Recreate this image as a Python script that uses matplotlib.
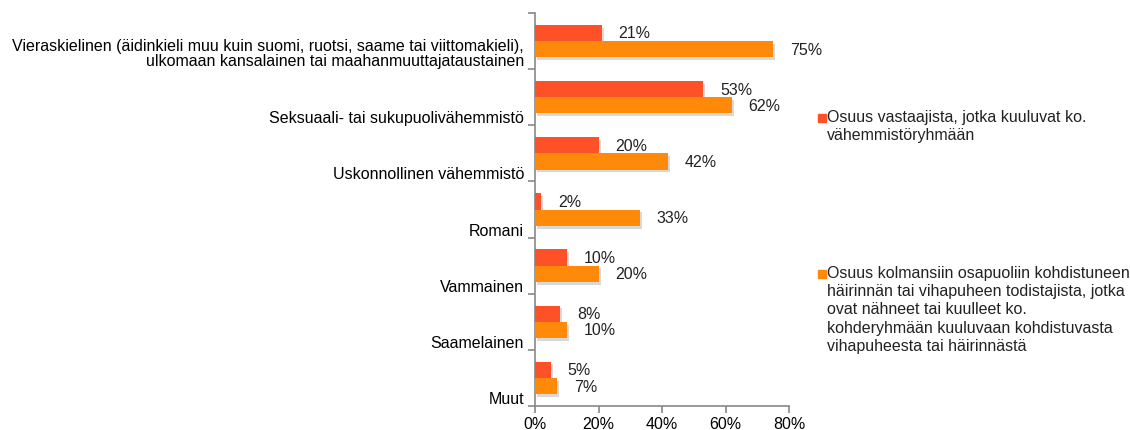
import matplotlib
matplotlib.use("Agg")
import matplotlib.pyplot as plt
from matplotlib.patches import Rectangle
from matplotlib.transforms import ScaledTranslation
import matplotlib.patheffects as pe
import numpy as np

plt.rcParams['font.family'] = ['Liberation Sans', 'DejaVu Sans']

categories = [
    "Vieraskielinen (äidinkieli muu kuin suomi, ruotsi, saame tai viittomakieli),\nulkomaan kansalainen tai maahanmuuttajataustainen",
    "Seksuaali- tai sukupuolivähemmistö",
    "Uskonnollinen vähemmistö",
    "Romani",
    "Vammainen",
    "Saamelainen",
    "Muut",
]
respondents = [21, 53, 20, 2, 10, 8, 5]
witnesses = [75, 62, 42, 33, 20, 10, 7]
series_names = [
    "Osuus vastaajista, jotka kuuluvat ko.\nvähemmistöryhmään",
    "Osuus kolmansiin osapuoliin kohdistuneen\nhäirinnän tai vihapuheen todistajista, jotka\novat nähneet tai kuulleet ko.\nkohderyhmään kuuluvaan kohdistuvasta\nvihapuheesta tai häirinnästä",
]
xticks = [0, 20, 40, 60, 80]

c_red = "#FF5128"
c_orange = "#FF8A0A"
grey = "#888888"
fs = 11.5

fig = plt.figure(figsize=(11.30, 4.31), dpi=100)
ax = fig.add_axes([535/1130, 1-407/431, 254/1130, 393/431])

y = np.arange(len(categories))
h = 0.29
shadow = [pe.SimplePatchShadow(offset=(1.5, -2), shadow_rgbFace="#aaaaaa", alpha=0.45), pe.Normal()]
b1 = ax.barh(y - h/2, respondents, height=h, color=c_red, zorder=3)
b2 = ax.barh(y + h/2, witnesses, height=h, color=c_orange, zorder=3)
for b in list(b1) + list(b2):
    b.set_path_effects(shadow)

for yi, v in zip(y - h/2, respondents):
    ax.annotate(f"{v}%", (v, yi), xytext=(12, 0), textcoords="offset points",
                va="center", ha="left", fontsize=fs, color="#222222")
for yi, v in zip(y + h/2, witnesses):
    ax.annotate(f"{v}%", (v, yi), xytext=(12, 0), textcoords="offset points",
                va="center", ha="left", fontsize=fs, color="#222222")

ax.set_xlim(0, 80)
ax.set_ylim(len(categories) - 0.5, -0.5)
ax.set_xticks(xticks)
ax.set_xticklabels([f"{t}%" for t in xticks], fontsize=fs)
ax.set_yticks(y)
ax.set_yticklabels(categories, fontsize=fs, linespacing=1.0)
ax.set_yticks(np.arange(len(categories) + 1) - 0.5, minor=True)
ax.tick_params(axis='y', which='major', length=0, pad=8)
ax.tick_params(axis='y', which='minor', length=5, color=grey, width=1.2, direction='out')
ax.tick_params(axis='x', which='major', length=5, color=grey, width=1.2, direction='out', pad=2)
for s in ['top', 'right']:
    ax.spines[s].set_visible(False)
for s in ['left', 'bottom']:
    ax.spines[s].set_color(grey)
    ax.spines[s].set_linewidth(1.2)

for i, lab in enumerate(ax.get_yticklabels()):
    dy = -10/100 if "\n" in lab.get_text() else -19/100
    lab.set_transform(lab.get_transform() + ScaledTranslation(0, dy, fig.dpi_scale_trans))

# legend
leg_y = [119, 275]
for name, col, yy in zip(series_names, [c_red, c_orange], leg_y):
    fig.patches.append(Rectangle((818/1130, 1-(yy+4)/431), 8/1130, 8/431,
                                 transform=fig.transFigure, color=col, figure=fig))
    fig.text(827/1130, 1-(yy-9)/431, name, fontsize=fs, va="top", ha="left",
             linespacing=1.27, color="#222222")

fig.savefig("out.png", dpi=100)
